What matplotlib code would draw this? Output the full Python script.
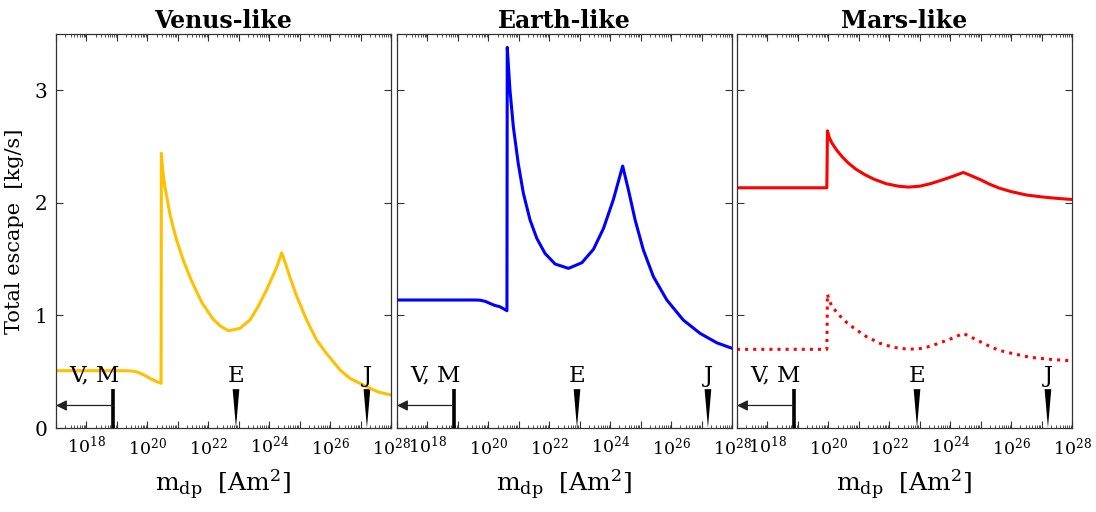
import matplotlib
matplotlib.use("Agg")
import matplotlib.pyplot as plt
from matplotlib.ticker import FixedLocator, NullFormatter

plt.rcParams['font.family'] = ['DejaVu Serif']
plt.rcParams['mathtext.fontset'] = 'dejavuserif'

# log10 of dipole moment [Am^2] and total escape [kg/s]
venus_x = [17.0, 19.3, 19.54, 19.70, 19.90, 20.09, 20.28, 20.45, 20.46, 20.50, 20.57,
           20.64, 20.74, 20.85, 20.96, 21.18, 21.40, 21.60, 21.80, 21.95, 22.15,
           22.40, 22.66, 23.04, 23.37, 23.64, 23.92, 24.25, 24.41, 24.55, 24.68,
           24.91, 25.23, 25.56, 25.89, 26.33, 26.66, 27.20, 27.58, 28.0]
venus_y = [0.509, 0.509, 0.505, 0.494, 0.47, 0.44, 0.415, 0.397, 2.44, 2.30, 2.15,
           2.05, 1.90, 1.78, 1.67, 1.49, 1.34, 1.22, 1.11, 1.05, 0.97,
           0.905, 0.864, 0.885, 0.96, 1.08, 1.23, 1.43, 1.557, 1.45, 1.34,
           1.166, 0.96, 0.78, 0.66, 0.515, 0.44, 0.367, 0.32, 0.293]

earth_x = [17.0, 19.6, 19.73, 19.90, 20.05, 20.20, 20.38, 20.61, 20.62, 20.71, 20.82,
           20.98, 21.15, 21.37, 21.59, 21.86, 22.19, 22.63, 23.07, 23.45, 23.78,
           24.10, 24.41, 24.60, 24.82, 25.09, 25.42, 25.86, 26.40, 26.95, 27.50,
           28.0]
earth_y = [1.137, 1.137, 1.135, 1.125, 1.107, 1.09, 1.077, 1.042, 3.381, 3.00, 2.676,
           2.351, 2.084, 1.847, 1.685, 1.551, 1.457, 1.418, 1.468, 1.587, 1.773,
           2.025, 2.327, 2.114, 1.847, 1.581, 1.344, 1.137, 0.959, 0.841, 0.757,
           0.708]

mars_x = [17.0, 19.95, 19.97, 20.03, 20.12, 20.27, 20.45, 20.65, 20.90, 21.20, 21.50,
          21.90, 22.30, 22.63, 23.00, 23.35, 23.70, 24.05, 24.43, 24.70, 25.00,
          25.30, 25.60, 26.00, 26.50, 27.00, 27.50, 28.0]
mars_y = [2.134, 2.134, 2.64, 2.58, 2.53, 2.47, 2.41, 2.355, 2.30, 2.25, 2.21,
          2.17, 2.148, 2.14, 2.148, 2.17, 2.20, 2.232, 2.27, 2.24, 2.205,
          2.165, 2.132, 2.10, 2.07, 2.053, 2.04, 2.03]

mars2_x = [17.0, 19.95, 19.97, 20.03, 20.12, 20.27, 20.45, 20.65, 20.93, 21.26, 21.70,
           22.13, 22.63, 23.12, 23.56, 24.00, 24.43, 24.70, 25.00, 25.30, 25.60,
           26.07, 26.62, 27.28, 28.0]
mars2_y = [0.699, 0.699, 1.19, 1.13, 1.08, 1.03, 0.975, 0.925, 0.87, 0.81, 0.752,
           0.717, 0.699, 0.708, 0.746, 0.79, 0.84, 0.805, 0.765, 0.725, 0.69,
           0.66, 0.628, 0.61, 0.596]

titles = ['Venus-like', 'Earth-like', 'Mars-like']
colors = ['#FFC000', '#0000FF', '#FF0000']

# planet dipole moments (log10 Am^2)
vm_pos = 18.87
tri_pos = [22.91, 27.21]
tri_names = ['E', 'J']
mark_top = 0.345
arrow_y = 0.2
label_y = 0.365

tick_exps = list(range(17, 29))
label_exps = [18, 20, 22, 24, 26, 28]


def p10(v):
    return 10.0 ** v


fig = plt.figure(figsize=(10.96, 5.12), dpi=100)
W, H = 1096.0, 512.0
lefts = [56, 397, 737]
axes = []
for i in range(3):
    ax = fig.add_axes([lefts[i] / W, (H - 428) / H, 335 / W, 394 / H])
    axes.append(ax)

series = [[(venus_x, venus_y, '-')],
          [(earth_x, earth_y, '-')],
          [(mars_x, mars_y, '-'), (mars2_x, mars2_y, ':')]]

for i, ax in enumerate(axes):
    for xs, ys, ls in series[i]:
        ax.plot([p10(v) for v in xs], ys, ls, color=colors[i], lw=2.2)

    # V, M marker with arrow
    ax.plot([p10(vm_pos), p10(vm_pos)], [0, mark_top], 'k-', lw=2.6,
            solid_capstyle='butt')
    ax.annotate('', xy=(p10(17), arrow_y), xytext=(p10(vm_pos), arrow_y),
                arrowprops=dict(arrowstyle='-|>', color='#222222', lw=0.9,
                                mutation_scale=16, shrinkA=0, shrinkB=0))
    ax.text(p10(vm_pos - 0.62), label_y, 'V, M', ha='center', va='bottom',
            fontsize=16.5)
    for p, nm in zip(tri_pos, tri_names):
        ax.fill([p10(p - 0.11), p10(p + 0.11), p10(p)],
                [mark_top, mark_top, 0], color='k', lw=0)
        ax.text(p10(p), label_y, nm, ha='center', va='bottom', fontsize=16.5)

    ax.set_xscale('log')
    ax.set_xlim(p10(17), p10(28))
    ax.set_ylim(0, 3.5)
    ax.xaxis.set_major_locator(FixedLocator([p10(e) for e in tick_exps]))
    ax.set_xticklabels([r'$10^{%d}$' % e if e in label_exps else '' for e in tick_exps])
    minors = [m * p10(e) for e in tick_exps[:-1] for m in range(2, 10)]
    ax.xaxis.set_minor_locator(FixedLocator(minors))
    ax.xaxis.set_minor_formatter(NullFormatter())
    ax.set_yticks([0, 1, 2, 3])
    ax.tick_params(which='both', direction='in', top=True, right=True,
                   labelsize=12.5, color='#333333', pad=6)
    ax.tick_params(axis='y', labelsize=14.5)
    ax.tick_params(which='major', length=5, width=0.8)
    ax.tick_params(which='minor', length=2.5, width=0.6)
    for sp in ax.spines.values():
        sp.set_color('#333333')
        sp.set_linewidth(0.9)
    if i > 0:
        ax.set_yticklabels([])
    ax.set_title(titles[i], fontsize=17, fontweight='bold', pad=4)
    ax.set_xlabel(r'm$_{\rm dp}$  [Am$^2$]', fontsize=18, labelpad=7)

axes[0].set_ylabel('Total escape  [kg/s]', fontsize=15, labelpad=8)

fig.savefig('out.png', dpi=100)
